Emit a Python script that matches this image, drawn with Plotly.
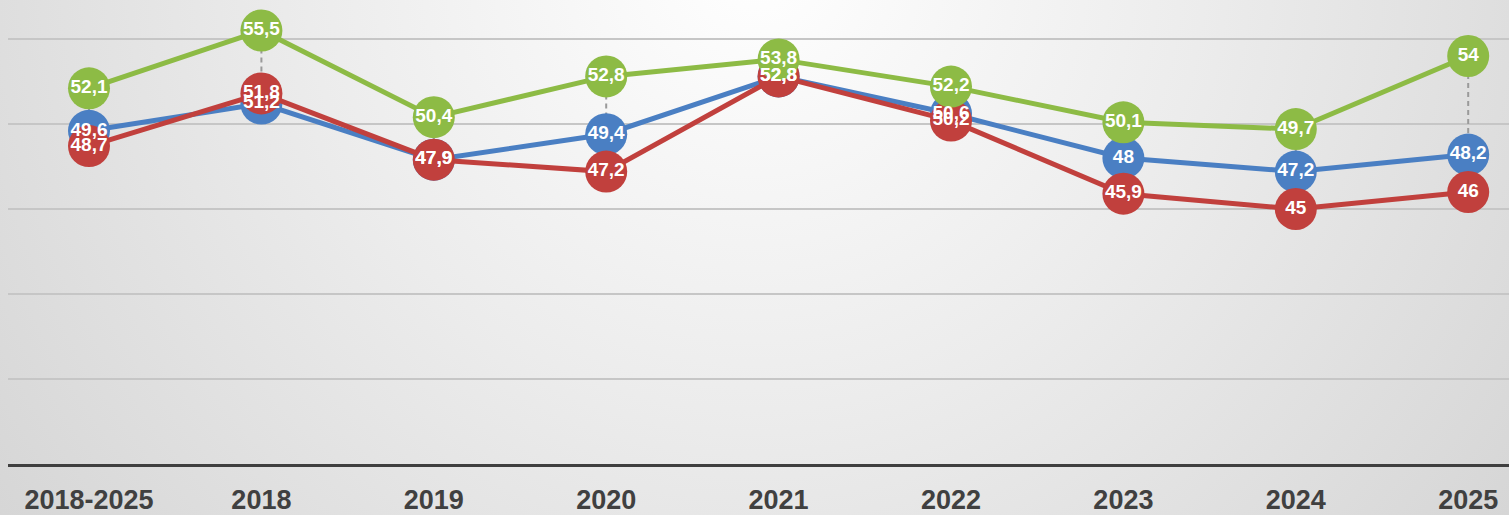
import base64
import plotly.graph_objects as go

categories = ["2018-2025", "2018", "2019", "2020", "2021", "2022", "2023", "2024", "2025"]
green_vals = [52.1, 55.5, 50.4, 52.8, 53.8, 52.2, 50.1, 49.7, 54]
blue_vals = [49.6, 51.2, 47.9, 49.4, 52.8, 50.6, 48, 47.2, 48.2]
red_vals = [48.7, 51.8, 47.9, 47.2, 52.8, 50.2, 45.9, 45, 46]

GREEN = "#8dbb45"
BLUE = "#4a7fc3"
RED = "#c1403d"

W, H = 1509, 515
ML, MB = 8, 51
x_idx = list(range(len(categories)))


def fmt(v):
    s = f"{v:g}"
    return s.replace(".", ",")


fig = go.Figure()

# high-low dashed connectors per category
hx, hy = [], []
for i in x_idx:
    col = [green_vals[i], blue_vals[i], red_vals[i]]
    hx += [i, i, None]
    hy += [max(col), min(col), None]
fig.add_trace(go.Scatter(x=hx, y=hy, mode="lines",
                         line=dict(color="#9a9a9a", width=2, dash="5px,4px"),
                         hoverinfo="skip", showlegend=False))

for vals, color in [(blue_vals, BLUE), (red_vals, RED), (green_vals, GREEN)]:
    fig.add_trace(go.Scatter(x=x_idx, y=vals, mode="lines+markers",
                             line=dict(color=color, width=5),
                             marker=dict(color=color, size=42, line=dict(width=0)),
                             showlegend=False))

for vals in [blue_vals, red_vals, green_vals]:
    fig.add_trace(go.Scatter(x=x_idx, y=vals, mode="text",
                             text=[fmt(v) for v in vals],
                             textposition="middle center",
                             textfont=dict(family="Liberation Sans, Arial, sans-serif",
                                           size=19, color="white", weight="bold"),
                             showlegend=False, hoverinfo="skip"))

# soft radial background
svg = f'''<svg xmlns="http://www.w3.org/2000/svg" width="{W}" height="{H}" viewBox="0 0 {W} {H}" preserveAspectRatio="none">
<defs><radialGradient id="g" gradientUnits="userSpaceOnUse" cx="755" cy="-40" r="1000">
<stop offset="0" stop-color="#ffffff"/><stop offset="0.45" stop-color="#ececec"/><stop offset="1" stop-color="#d3d3d3"/>
</radialGradient></defs><rect width="{W}" height="{H}" fill="url(#g)"/></svg>'''
src = "data:image/svg+xml;base64," + base64.b64encode(svg.encode()).decode()

plot_w = W - ML
plot_h = H - MB
fig.add_layout_image(dict(source=src, xref="paper", yref="paper",
                          x=-ML / plot_w, y=1, sizex=W / plot_w, sizey=H / plot_h,
                          xanchor="left", yanchor="top", sizing="stretch", layer="below"))

step = 172.4
first = 89 - ML
fig.update_layout(
    width=W, height=H,
    margin=dict(l=ML, r=0, t=0, b=MB),
    paper_bgcolor="#e4e4e4",
    plot_bgcolor="rgba(0,0,0,0)",
    xaxis=dict(range=[-first / step, (plot_w - first) / step],
               tickmode="array", tickvals=x_idx, ticktext=categories,
               showgrid=False, zeroline=False, showline=True, automargin=False,
               linecolor="#3f3f3f", linewidth=3, ticks="",
               ticklabelstandoff=10,
               tickfont=dict(family="Liberation Sans Narrow, Arial Narrow, Liberation Sans",
                             size=27, color="#404040", weight="bold")),
    yaxis=dict(range=[30, 30 + plot_h / 17.0], dtick=5, tick0=30, automargin=False,
               showticklabels=False, showgrid=True, gridcolor="#c6c6c6", gridwidth=2,
               zeroline=False, showline=False),
)

fig.write_html("out.html")
